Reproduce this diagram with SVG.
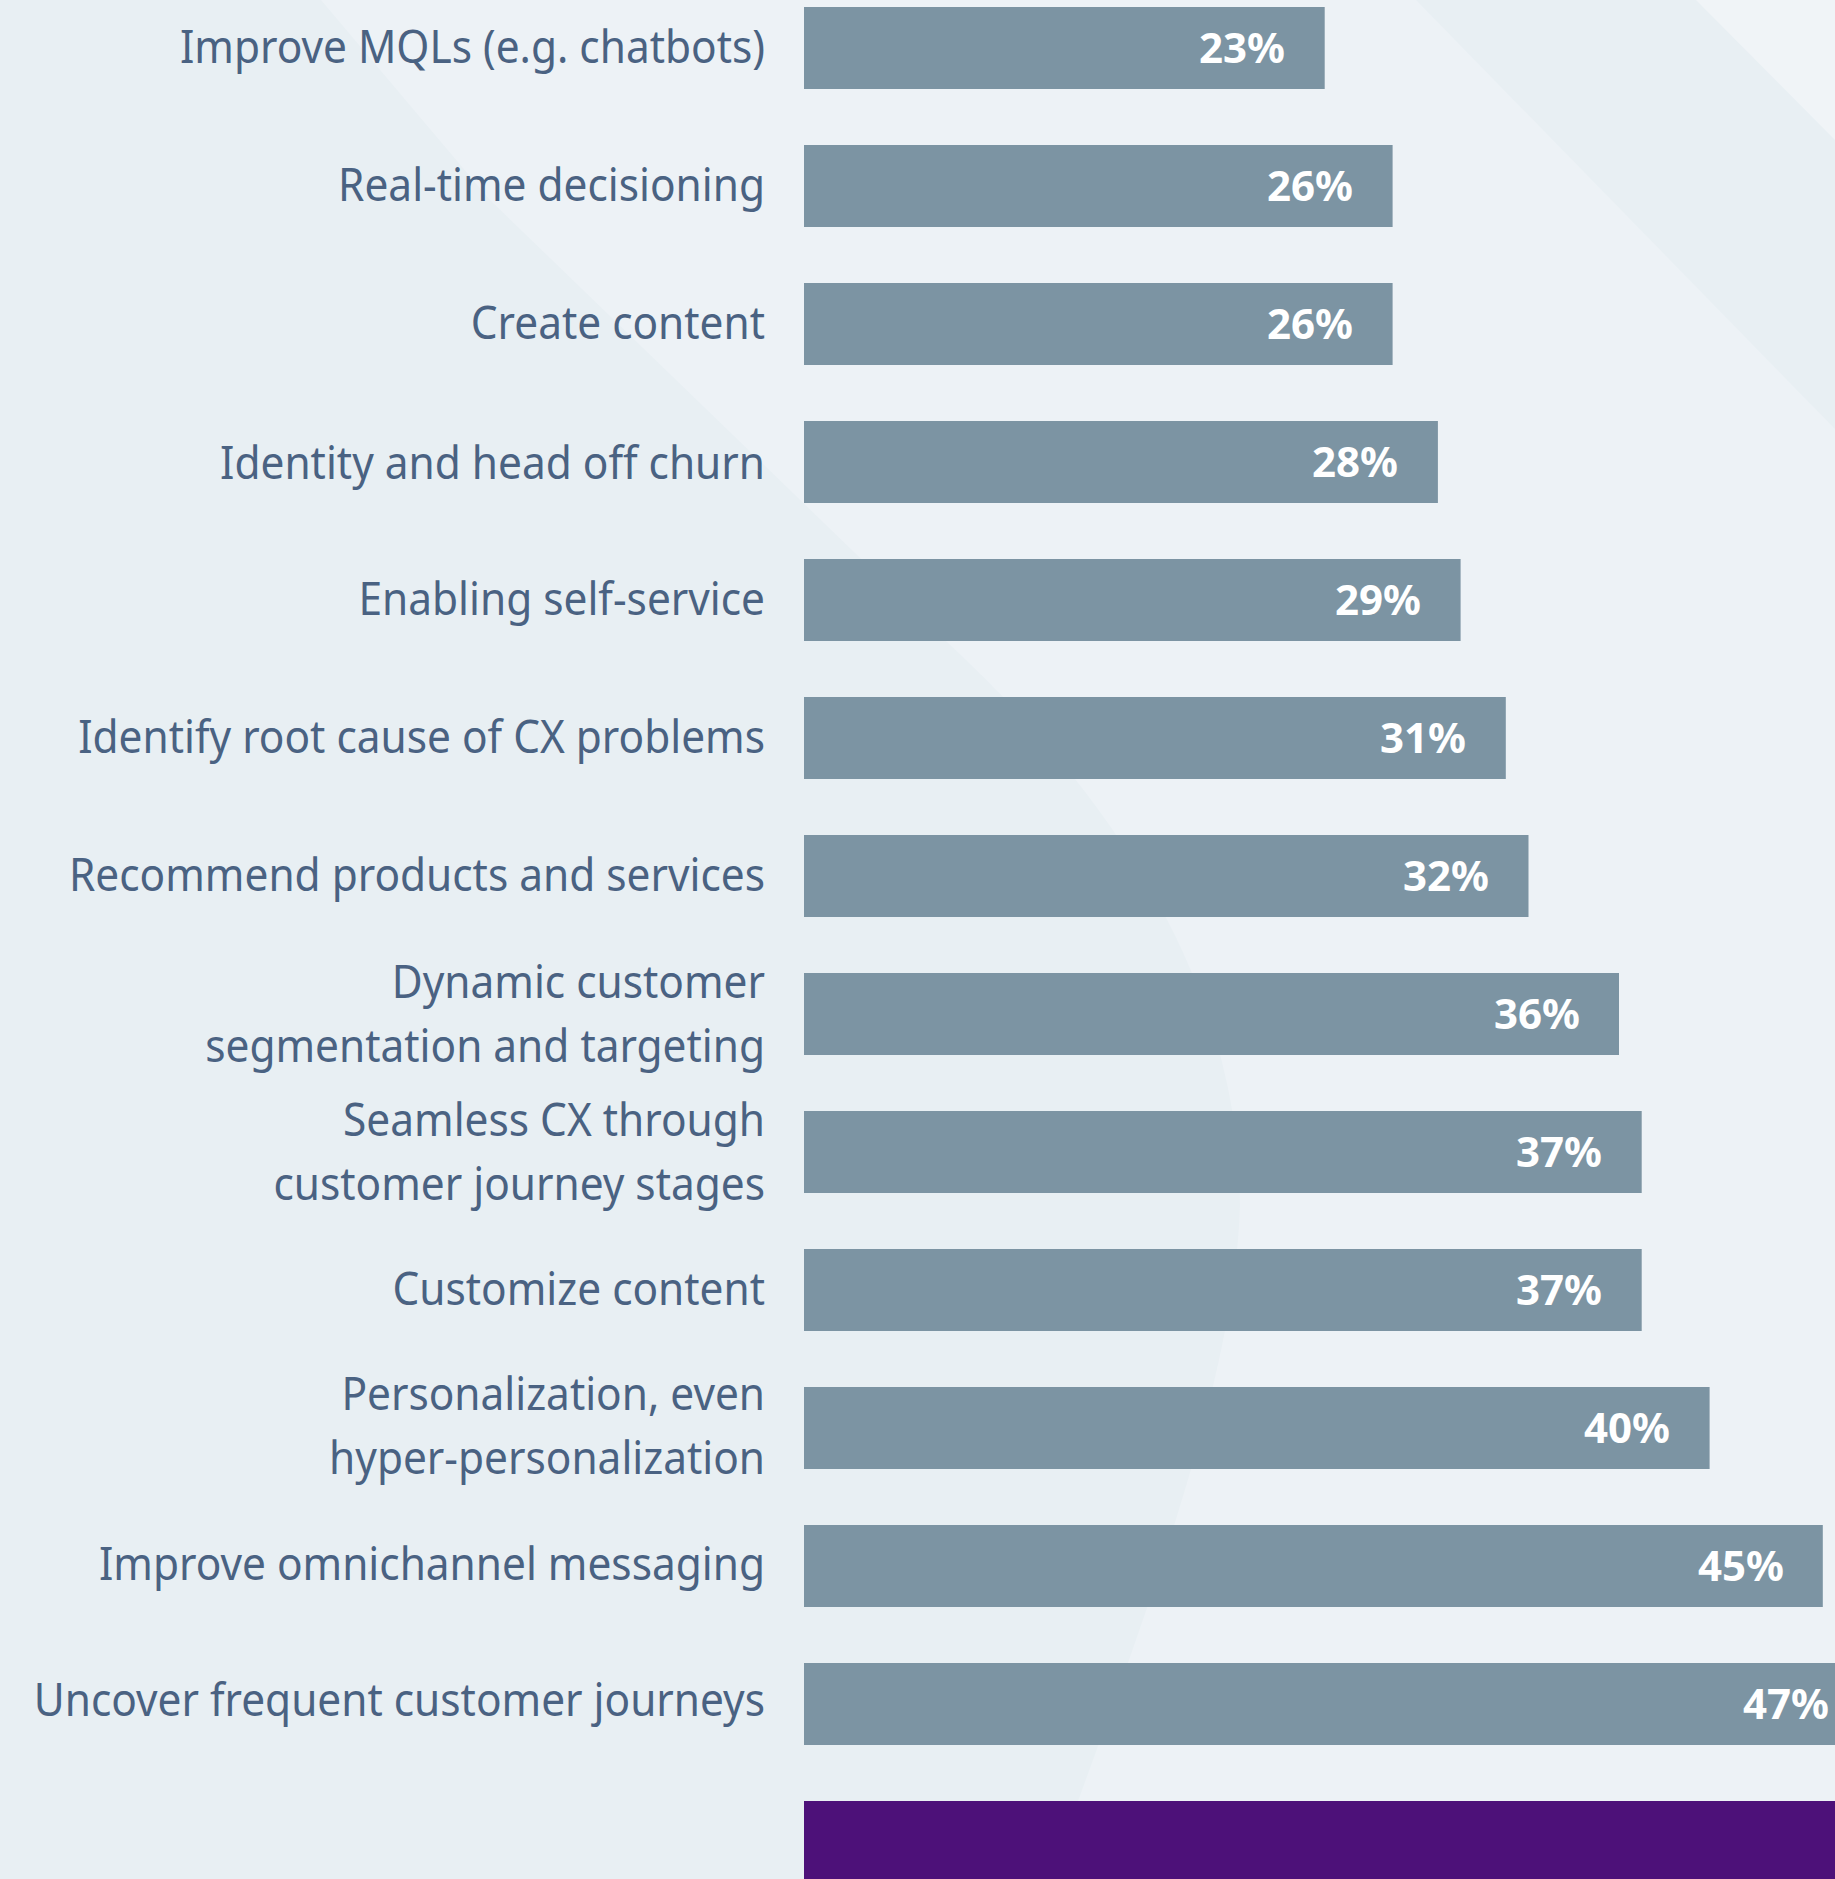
<svg xmlns="http://www.w3.org/2000/svg" width="1835" height="1879" viewBox="0 0 1835 1879">
<style>
.bar{fill:#7c94a3}
.lbl{font-family:"Noto Sans","Open Sans","DejaVu Sans",sans-serif;font-size:45px;font-weight:400;fill:#4a6282;text-anchor:end}
.pct{font-family:"Noto Sans","Open Sans","DejaVu Sans",sans-serif;font-size:42px;font-weight:bold;fill:#ffffff;text-anchor:end}
</style>
<g id="background">
<rect x="0" y="0" width="1835" height="1879" fill="#edf2f6"/>
<path d="M0,0 L321,0 L490,200 L946,641 C1150,830 1240,1020 1240,1204 C1235,1400 1120,1680 1050,1879 L0,1879 Z" fill="#e8eff3"/>
<polygon points="1416,0 1835,0 1835,429" fill="#e8eff3"/>
<polygon points="1696,0 1835,0 1835,140" fill="#f0f4f7"/>
</g>
<g id="row-mqls">
<rect class="bar" x="804" y="7" width="520.7" height="82"/>
<text class="lbl" transform="translate(765 63) scale(0.942 1)">Improve MQLs (e.g. chatbots)</text>
<text class="pct" x="1285" y="63">23%</text>
</g>
<g id="row-realtime">
<rect class="bar" x="804" y="145" width="588.6" height="82"/>
<text class="lbl" transform="translate(765 201) scale(0.942 1)">Real-time decisioning</text>
<text class="pct" x="1353" y="201">26%</text>
</g>
<g id="row-create">
<rect class="bar" x="804" y="283" width="588.6" height="82"/>
<text class="lbl" transform="translate(765 339) scale(0.942 1)">Create content</text>
<text class="pct" x="1353" y="339">26%</text>
</g>
<g id="row-churn">
<rect class="bar" x="804" y="421" width="633.9" height="82"/>
<text class="lbl" transform="translate(765 479) scale(0.942 1)">Identity and head off churn</text>
<text class="pct" x="1398" y="477">28%</text>
</g>
<g id="row-selfservice">
<rect class="bar" x="804" y="559" width="656.6" height="82"/>
<text class="lbl" transform="translate(765 615) scale(0.942 1)">Enabling self-service</text>
<text class="pct" x="1421" y="615">29%</text>
</g>
<g id="row-rootcause">
<rect class="bar" x="804" y="697" width="701.8" height="82"/>
<text class="lbl" transform="translate(765 753) scale(0.942 1)">Identify root cause of CX problems</text>
<text class="pct" x="1466" y="753">31%</text>
</g>
<g id="row-recommend">
<rect class="bar" x="804" y="835" width="724.5" height="82"/>
<text class="lbl" transform="translate(765 891) scale(0.942 1)">Recommend products and services</text>
<text class="pct" x="1489" y="891">32%</text>
</g>
<g id="row-segmentation">
<rect class="bar" x="804" y="973" width="815" height="82"/>
<text class="lbl" transform="translate(765 998) scale(0.942 1)">Dynamic customer</text>
<text class="lbl" transform="translate(765 1062) scale(0.942 1)">segmentation and targeting</text>
<text class="pct" x="1580" y="1029">36%</text>
</g>
<g id="row-seamless">
<rect class="bar" x="804" y="1111" width="837.7" height="82"/>
<text class="lbl" transform="translate(765 1136) scale(0.942 1)">Seamless CX through</text>
<text class="lbl" transform="translate(765 1200) scale(0.942 1)">customer journey stages</text>
<text class="pct" x="1602" y="1167">37%</text>
</g>
<g id="row-customize">
<rect class="bar" x="804" y="1249" width="837.7" height="82"/>
<text class="lbl" transform="translate(765 1305) scale(0.942 1)">Customize content</text>
<text class="pct" x="1602" y="1305">37%</text>
</g>
<g id="row-personalization">
<rect class="bar" x="804" y="1387" width="905.6" height="82"/>
<text class="lbl" transform="translate(765 1410) scale(0.942 1)">Personalization, even</text>
<text class="lbl" transform="translate(765 1474) scale(0.942 1)">hyper-personalization</text>
<text class="pct" x="1670" y="1443">40%</text>
</g>
<g id="row-omnichannel">
<rect class="bar" x="804" y="1525" width="1018.8" height="82"/>
<text class="lbl" transform="translate(765 1580) scale(0.942 1)">Improve omnichannel messaging</text>
<text class="pct" x="1784" y="1581">45%</text>
</g>
<g id="row-journeys">
<rect class="bar" x="804" y="1663" width="1064" height="82"/>
<text class="lbl" transform="translate(765 1716) scale(0.942 1)">Uncover frequent customer journeys</text>
<text class="pct" x="1829" y="1719">47%</text>
</g>
<g id="footer-band">
<rect x="804" y="1801" width="1031" height="78" fill="#4d1179"/>
</g>
<g id="connectors"></g>
</svg>
